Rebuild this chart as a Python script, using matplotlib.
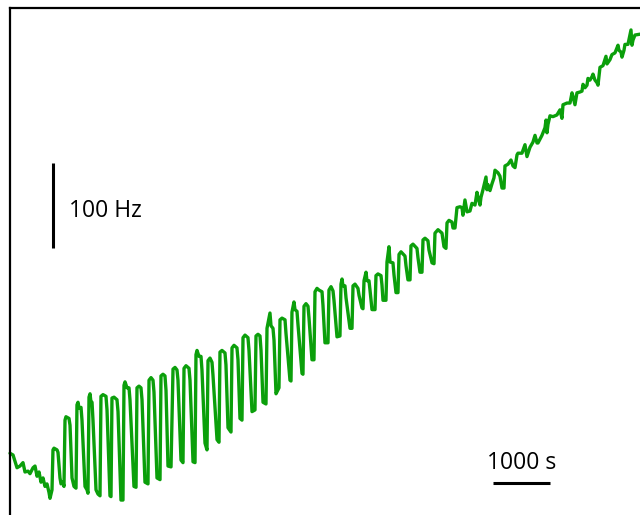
import matplotlib
matplotlib.use("Agg")
import matplotlib.pyplot as plt

# Frequency trace: vertices (time in s, frequency shift in Hz)
time_s = [
    0, 53, 123, 175, 228, 263, 316, 351, 404, 439, 474, 509, 544, 579, 614, 649, 684, 702, 737,
    754, 772, 825, 842, 877, 895, 930, 947,
    965, 982, 1035, 1053, 1088, 1123, 1158,
    1175, 1193, 1211, 1246, 1263, 1316, 1351, 1368,
    1386, 1404, 1421, 1439, 1456, 1509, 1544, 1579,
    1596, 1632, 1684, 1702, 1754, 1772,
    1789, 1825, 1877, 1895, 1947, 1982,
    2000, 2018, 2053, 2088, 2105, 2175, 2211,
    2228, 2263, 2298, 2316, 2368, 2421,
    2439, 2474, 2509, 2526, 2579, 2632,
    2649, 2684, 2719, 2737, 2772, 2825,
    2860, 2895, 2930, 2947, 3000, 3035,
    3053, 3088, 3140, 3158, 3211, 3246,
    3263, 3281, 3316, 3351, 3368, 3421, 3456,
    3474, 3509, 3544, 3561, 3632, 3667,
    3684, 3719, 3772, 3789, 3825, 3877,
    3895, 3930, 3982, 4000, 4035, 4070,
    4088, 4123, 4175, 4193, 4246, 4298,
    4316, 4351, 4386, 4404, 4439, 4491,
    4509, 4561, 4579, 4614, 4632, 4667, 4719,
    4737, 4772, 4825, 4842, 4912, 4930,
    4947, 4982, 5000, 5035, 5053, 5123, 5140,
    5158, 5193, 5228, 5246, 5298, 5333,
    5351, 5386, 5421, 5474, 5491, 5526, 5579,
    5596, 5632, 5667, 5684, 5737, 5789,
    5807, 5825, 5842, 5877, 5895, 5965, 6000,
    6018, 6053, 6105, 6123, 6175, 6193,
    6211, 6246, 6263, 6298, 6316, 6351, 6404,
    6421, 6456, 6509, 6526, 6544, 6596,
    6614, 6649, 6667, 6719, 6737, 6772, 6807,
    6825, 6860, 6930, 6947, 6982, 7018,
    7035, 7070, 7140, 7158, 7193, 7228,
    7246, 7281, 7333, 7351, 7404, 7439,
    7456, 7509, 7579, 7596, 7614, 7649,
    7667, 7702, 7754, 7772, 7807,
    7842, 7895, 7930, 7947, 7982, 8018, 8070, 8105, 8158, 8193, 8211, 8246, 8263,
    8298, 8351, 8368, 8386, 8421, 8456, 8491, 8509, 8561, 8596, 8632, 8667,
    8684, 8737, 8789, 8825, 8860, 8895, 8912, 8982, 9035, 9070, 9123, 9175, 9211,
    9246, 9263, 9333, 9386, 9404, 9421, 9439, 9474, 9526, 9596, 9649, 9684,
    9702, 9772, 9825, 9860, 9877, 9912, 9947, 10000, 10035, 10053, 10088, 10123,
    10140, 10175, 10211, 10228, 10263, 10298, 10316, 10351, 10404, 10456, 10474,
    10526, 10561, 10614, 10667, 10684, 10719, 10737, 10772, 10789, 10842, 10895,
    10912, 10930, 10965, 11053,
]
freq_hz = [
    55, 53, 38, 40, 44, 33, 34, 31, 38, 40, 28, 33, 21, 26, 16, 19, 9, 2, 12,
    59, 61, 59, 56, 26, 19, 21, 16,
    94, 98, 96, 88, 26, 16, 14,
    112, 115, 108, 109, 94, 16, 12, 8,
    121, 125, 115, 115, 94, 12, 7, 5,
    122, 124, 122, 106, 5, 4,
    120, 121, 118, 104, 0, 0,
    135, 139, 132, 132, 118, 16, 15,
    132, 134, 132, 118, 21, 19,
    141, 144, 141, 127, 26, 24,
    146, 148, 146, 129, 40, 39,
    154, 156, 153, 141, 47, 44,
    155, 158, 155, 141, 45, 44,
    171, 176, 169, 169, 153, 67, 59,
    164, 167, 162, 147, 71, 68,
    174, 176, 173, 159, 85, 80,
    179, 182, 179, 165, 96, 94,
    191, 194, 191, 176, 104, 106,
    193, 195, 193, 176, 115, 113,
    202, 220, 205, 202, 188, 125, 132,
    212, 214, 212, 196, 141, 140,
    221, 233, 224, 222, 206, 149, 148,
    228, 231, 228, 214, 165, 165,
    245, 249, 247, 245, 229, 185, 185,
    247, 251, 246, 235, 192, 193,
    254, 260, 252, 252, 238, 202, 202,
    252, 254, 249, 241, 226, 225,
    258, 268, 258, 258, 247, 224, 224,
    264, 266, 264, 253, 235, 235,
    280, 298, 280, 279, 265, 244, 244,
    289, 292, 287, 276, 259, 259,
    299, 301, 296, 285, 268, 268,
    306, 308, 305, 294, 279, 278,
    314, 318, 314, 306, 298, 296,
    326, 329, 327, 320, 320,
    344, 345, 344, 335, 353, 339, 340, 349, 347, 362, 356, 347, 356,
    365, 380, 365, 371, 364, 372, 379, 388, 385, 381, 367, 367,
    393, 395, 400, 393, 391, 406, 408, 408, 418, 404, 415, 421, 429,
    420, 420, 429, 438, 447, 432, 442, 452, 451, 453, 459, 449,
    465, 467, 467, 479, 475, 465, 479, 480, 481, 489, 485, 488,
    496, 494, 498, 501, 494, 491, 488, 509, 511, 522, 513,
    518, 524, 526, 535, 529, 527, 521, 529, 536, 536, 553,
    535, 541, 547, 548,
]

# Scale bars
bar_time_s = 1000
bar_freq_hz = 100
vbar_t, vbar_f0 = 754, 296
hbar_t0, hbar_f = 8474, 20

trace_color = "#0b9f0b"

fig = plt.figure(figsize=(6.4, 5.15), dpi=100)
ax = fig.add_axes([10 / 640, 0, 630 / 640, 507 / 515])
ax.set_xlim(0, 11053)
ax.set_ylim(-17.6, 578.8)

ax.plot(time_s, freq_hz, color=trace_color, lw=2.4,
        solid_joinstyle="round", solid_capstyle="round", clip_on=False)

# vertical scale bar
ax.plot([vbar_t, vbar_t], [vbar_f0, vbar_f0 + bar_freq_hz], color="black",
        lw=2.2, solid_capstyle="butt")
ax.text(1035, 333, f"{bar_freq_hz} Hz", fontsize=16.5, family="Open Sans",
        ha="left", va="baseline", color="black")

# horizontal scale bar
ax.plot([hbar_t0, hbar_t0 + bar_time_s], [hbar_f, hbar_f], color="black",
        lw=2.2, solid_capstyle="butt")
ax.text(hbar_t0 + bar_time_s / 2, 36.5, f"{bar_time_s} s", fontsize=16.5,
        family="Open Sans", ha="center", va="baseline", color="black")

for side in ("right", "bottom"):
    ax.spines[side].set_visible(False)
for side in ("top", "left"):
    ax.spines[side].set_linewidth(1.6)
    ax.spines[side].set_color("black")
ax.set_xticks([])
ax.set_yticks([])

fig.savefig("out.png", dpi=100)
